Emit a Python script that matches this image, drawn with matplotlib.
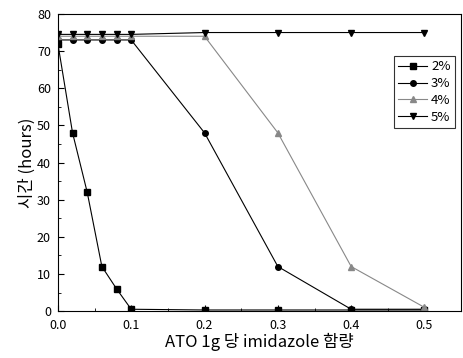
import matplotlib
matplotlib.use("Agg")
import matplotlib.pyplot as plt
from matplotlib.ticker import MultipleLocator

plt.rcParams['font.family'] = ['Noto Sans CJK KR', 'DejaVu Sans']

x = [0.0, 0.02, 0.04, 0.06, 0.08, 0.1, 0.2, 0.3, 0.4, 0.5]
y_2 = [72, 48, 32, 12, 6, 0.5, 0.3, 0.3, 0.3, 0.3]
y_3 = [73, 73, 73, 73, 73, 73, 48, 12, 0.5, 0.5]
y_4 = [74, 74, 74, 74, 74, 74, 74, 48, 12, 1]
y_5 = [74.5, 74.5, 74.5, 74.5, 74.5, 74.5, 75, 75, 75, 75]
labels = ["2%", "3%", "4%", "5%"]

fig = plt.figure(figsize=(4.63, 3.58), dpi=100)
ax = fig.add_axes([0.125, 0.131, 0.871, 0.830])

ax.plot(x, y_2, color="black", marker="s", ms=4, lw=0.8, label=labels[0])
ax.plot(x, y_3, color="black", marker="o", ms=4, lw=0.8, label=labels[1])
ax.plot(x, y_4, color="#888888", marker="^", ms=4, lw=0.8, label=labels[2])
ax.plot(x, y_5, color="black", marker="v", ms=5, lw=0.8, label=labels[3])

ax.set_xlim(0, 0.55)
ax.set_ylim(0, 80)
ax.xaxis.set_major_locator(MultipleLocator(0.1))
ax.xaxis.set_minor_locator(MultipleLocator(0.05))
ax.yaxis.set_major_locator(MultipleLocator(10))
ax.yaxis.set_minor_locator(MultipleLocator(5))
ax.tick_params(which="both", direction="in", labelsize=9)
ax.tick_params(which="major", length=4)
ax.tick_params(which="minor", length=2)
ax.tick_params(axis="x", pad=6)
ax.tick_params(axis="y", pad=5)

ax.set_xlabel("ATO 1g 당 imidazole 함량", fontsize=12, labelpad=0)
ax.set_ylabel("시간 (hours)", fontsize=12, labelpad=1)

leg = ax.legend(loc="upper right", bbox_to_anchor=(1.0, 0.88), fontsize=9.5,
                frameon=True, fancybox=False, edgecolor="black",
                handlelength=2.2, handletextpad=0.3, borderpad=0.3,
                labelspacing=0.3)
leg.get_frame().set_linewidth(0.8)

fig.savefig("out.png", dpi=100)
